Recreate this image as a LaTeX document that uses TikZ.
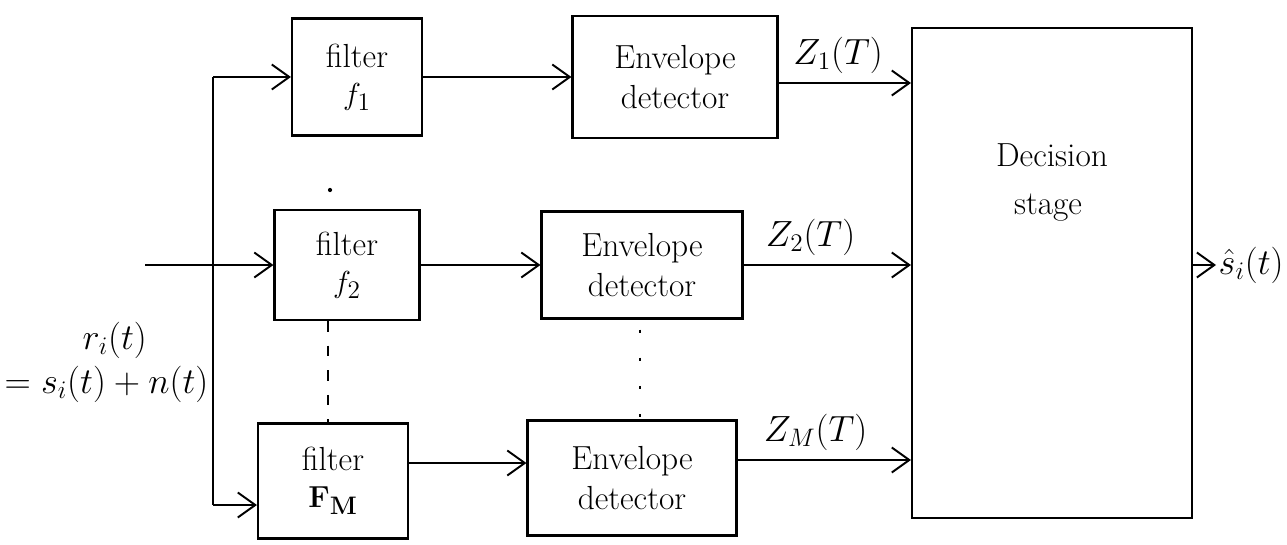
\documentclass[tikz,border=0pt]{standalone}
\usepackage{amsmath}
\usetikzlibrary{arrows.meta}
\begin{document}
\begin{tikzpicture}[x=0.02cm,y=-0.02cm,
  line width=1.1pt,
  every node/.style={font=\fontsize{19}{23}\selectfont},
  blk/.style 2 args={draw, line width=1.2pt, inner sep=0pt, align=center,
     minimum width=#1*0.02cm, minimum height=#2*0.02cm},
  arr/.style={-{Straight Barb[length=3.5mm,width=5mm]}},
  lbl/.style={inner sep=1pt},
  big/.style={font=\fontsize{22}{26}\selectfont}]
\useasboundingbox (0,0) rectangle (1287,544);
% blocks
\node[blk={130}{117}] (f1) at (357,77) {filter\\[-2pt]$f_1$};
\node[blk={145}{110}] (f2) at (347,265) {filter\\[-2pt]$f_2$};
\node[blk={150}{115}] (fM) at (333,481) {filter\\[-2pt]$\mathbf{F}_{\mathbf{M}}$};
\node[blk={205}{122}] (e1) at (675,77) {Envelope\\detector};
\node[blk={201}{107}] (e2) at (642,265) {Envelope\\detector};
\node[blk={209}{115}] (e3) at (632,478) {Envelope\\detector};
\node[blk={280}{490}] (dec) at (1052,273) {};
\node[lbl] (dtxt1) at (1052,155) {Decision};
\node[lbl] (dtxt2) at (1048,208) {stage};
% rows
\coordinate (r1) at (0,77);
\coordinate (r2) at (0,265);
\coordinate (r3) at (0,463);
\coordinate (z1) at (0,83);
\coordinate (zm) at (0,460);
\coordinate (cf) at (328,0);
\coordinate (ce) at (640,0);
% input
\coordinate (in) at (145,265);
\coordinate (j1) at (213,77);
\coordinate (j3) at (213,505);
\draw (j1) -- (j3);
\draw[arr] (in) -- (f2.west |- r2);
\draw[arr] (j1) -- (f1.west |- j1);
\draw[arr] (j3) -- (fM.west |- j3);
\node[lbl,big,anchor=west] (rt) at (80,340) {$r_i(t)$};
\node[lbl,big,anchor=west] (st) at (2,384) {$=s_i(t)+n(t)$};
% filter to envelope
\draw[arr] (f1.east |- r1) -- (e1.west |- r1);
\draw[arr] (f2.east |- r2) -- (e2.west |- r2);
\draw[arr] (fM.east |- r3) -- (e3.west |- r3);
% envelope to decision
\draw[arr] (e1.east |- z1) -- (dec.west |- z1) node[lbl,big,pos=0.45,above=4pt] (z1l) {$Z_1(T)$};
\draw[arr] (e2.east |- r2) -- (dec.west |- r2) node[lbl,big,pos=0.4,above=4pt] (z2l) {$Z_2(T)$};
\draw[arr] (e3.east |- zm) -- (dec.west |- zm) node[lbl,big,pos=0.45,above=4pt] (zml) {$Z_M(T)$};
% output
\coordinate (out) at (1216,265);
\draw[arr] (dec.east |- r2) -- (out);
\node[lbl,big,anchor=west] (shat) at (out) {$\hat{s}_i(t)$};
% continuation dots
\draw[line width=0.9pt, dash pattern=on 6pt off 8pt] (cf |- f2.south) -- (cf |- fM.north);
\draw[line width=0.9pt, dash pattern=on 2pt off 14pt] ([yshift=-0.2cm]ce |- e2.south) -- (ce |- e3.north);
\fill (330,190) circle (1.2pt);
\end{tikzpicture}
\end{document}
